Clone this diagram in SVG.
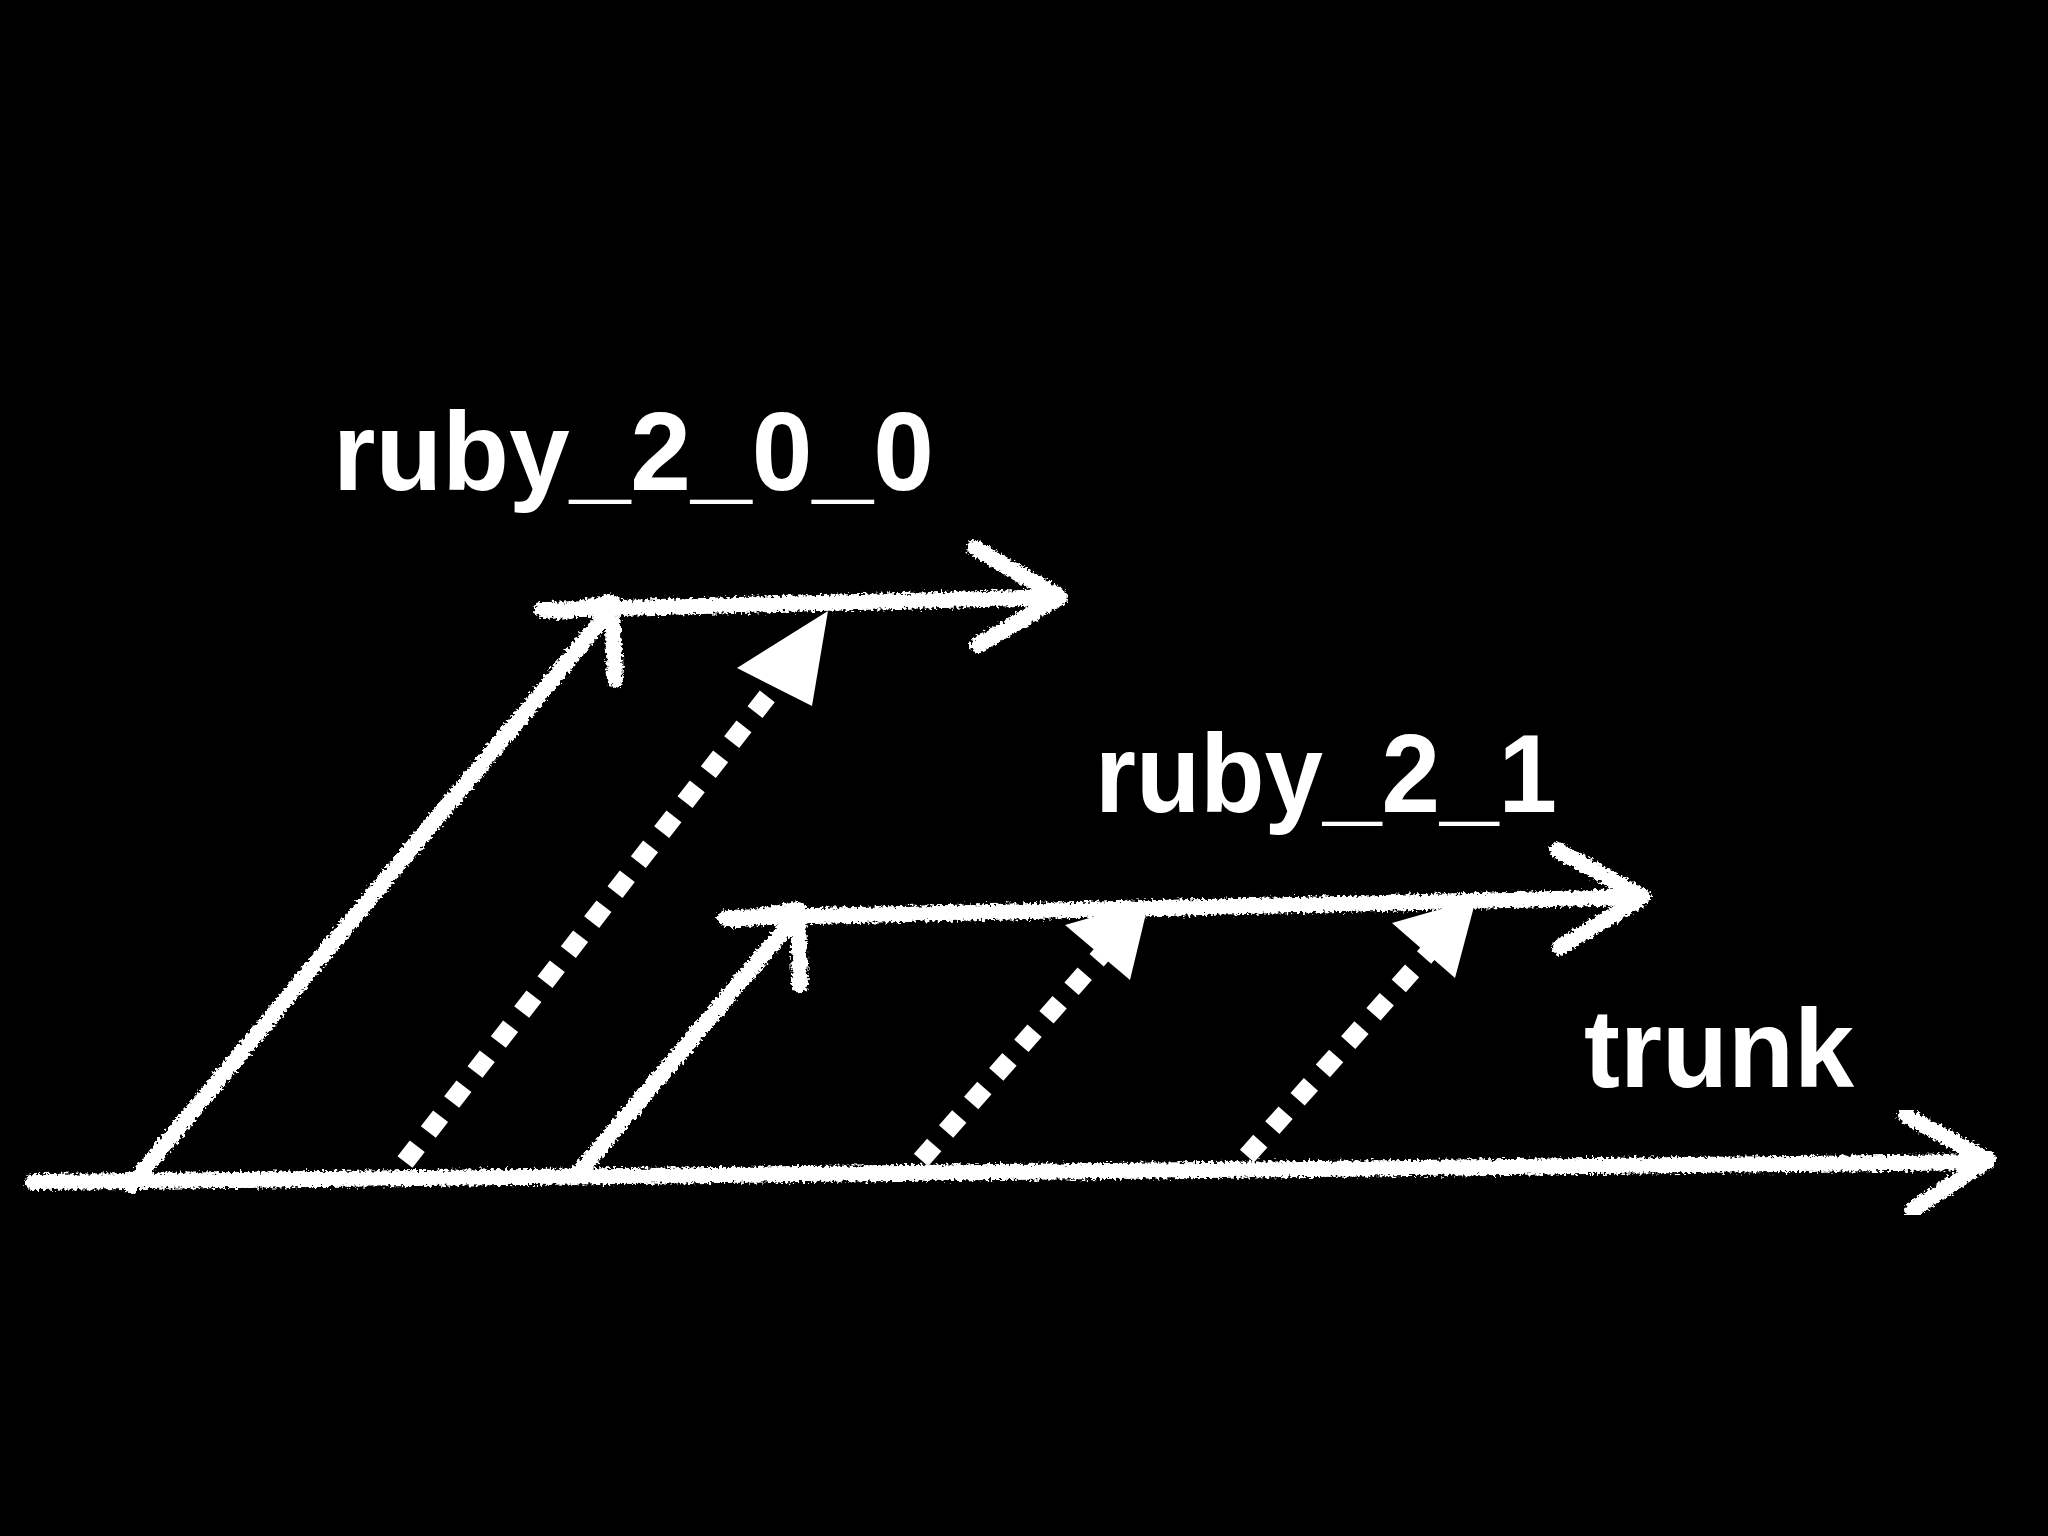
<svg xmlns="http://www.w3.org/2000/svg" width="2048" height="1536" viewBox="0 0 2048 1536">
<defs>
<filter id="chalk" x="-5%" y="-5%" width="110%" height="110%">
<feTurbulence type="fractalNoise" baseFrequency="0.35" numOctaves="2" seed="3" result="n"/>
<feDisplacementMap in="SourceGraphic" in2="n" scale="9" xChannelSelector="R" yChannelSelector="G"/>
</filter>
<style>
.chalk{fill:none;stroke:#fff;stroke-width:16;stroke-linecap:round;stroke-linejoin:round;filter:url(#chalk)}
.dot{fill:none;stroke:#fff;stroke-width:19;stroke-dasharray:20 18}
.head{fill:#fff}
.lbl{font-family:"Liberation Sans",Arial,sans-serif;font-weight:bold;fill:#fff;font-size:112px}
</style>
</defs>
<rect width="2048" height="1536" fill="#000"/>
<g id="connectors">
<g id="trunk-line"><path class="chalk" d="M33 1182 L1985 1162 M1905 1115 L1988 1160 L1912 1210"/></g>
<g id="ruby200-line"><path class="chalk" d="M131 1185 L612 608 M542 610 L1060 597 M975 548 L1060 597 L978 645 M560 612 L612 602 L615 680"/></g>
<g id="ruby21-line"><path class="chalk" d="M575 1177 L796 916 M725 918 L1643 897 M1557 850 L1643 897 L1560 947 M735 920 L798 910 L800 985"/></g>
<g id="merge1"><path class="dot" d="M405 1162 L780 680"/><polygon class="head" points="828,611 737,668 812,706"/></g>
<g id="merge2"><path class="dot" d="M921 1160 L1110 945"/><polygon class="head" points="1149,901 1065,925 1130,980"/></g>
<g id="merge3"><path class="dot" d="M1247 1156 L1437 943"/><polygon class="head" points="1476,899 1392,923 1455,978"/></g>
</g>
<g id="label-ruby200"><text class="lbl" x="333" y="490" textLength="601" lengthAdjust="spacingAndGlyphs">ruby_2_0_0</text></g>
<g id="label-ruby21"><text class="lbl" x="1095" y="812" textLength="462" lengthAdjust="spacingAndGlyphs">ruby_2_1</text></g>
<g id="label-trunk"><text class="lbl" x="1584" y="1087" textLength="270" lengthAdjust="spacingAndGlyphs">trunk</text></g>
</svg>
